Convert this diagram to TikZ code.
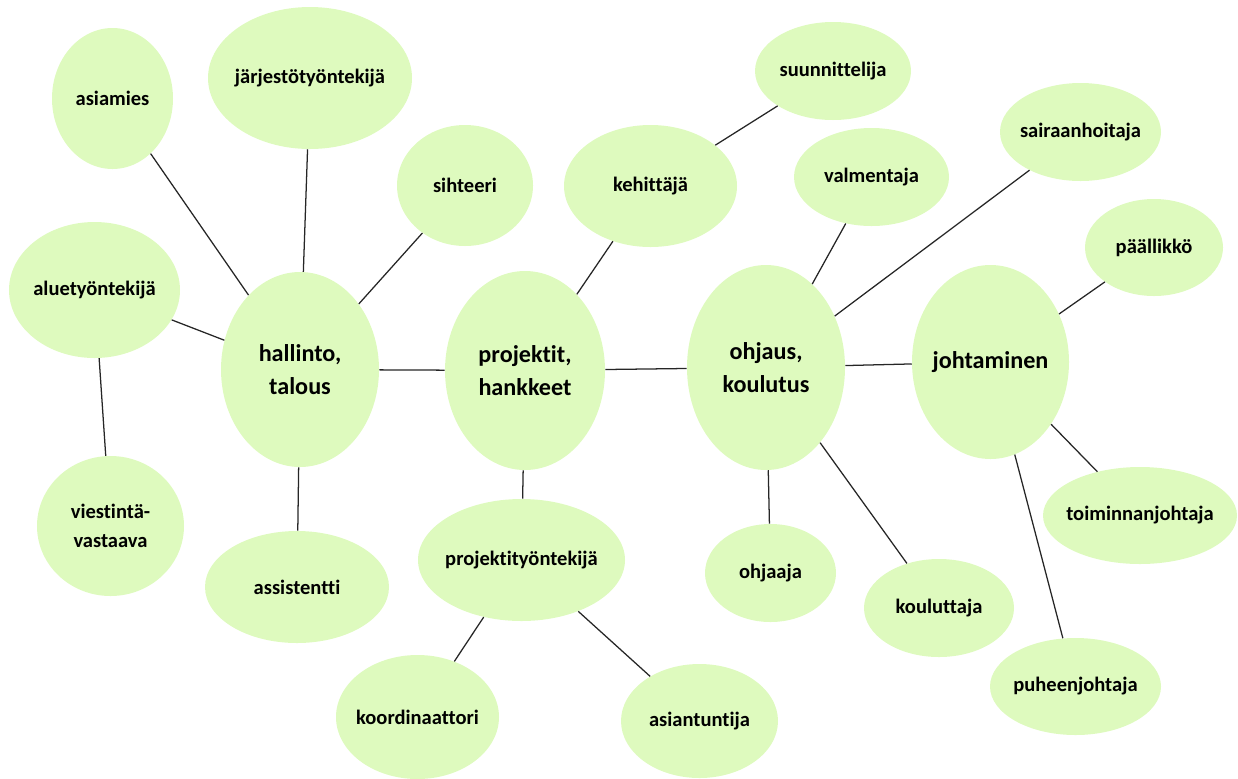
\documentclass[tikz,border=0pt]{standalone}
\usepackage{fontspec}
\setmainfont{Carlito}[Ligatures=CommonOff]
\usetikzlibrary{shapes.geometric}

\definecolor{leafgreen}{HTML}{DEFABE}
\definecolor{linkgray}{HTML}{262626}

\tikzset{
	bubble/.style 2 args={ellipse, fill=leafgreen, inner sep=0pt,
		minimum width=#1*0.5mm, minimum height=#2*0.5mm},
	jobtext/.style={font=\bfseries\fontsize{14.6}{20.6}\selectfont, align=center, inner sep=0pt},
	hubtext/.style={font=\bfseries\fontsize{17.2}{23.5}\selectfont, align=center, inner sep=0pt},
	link/.style={draw=linkgray, line width=0.9pt}
}

\begin{document}
\begin{tikzpicture}[x=0.25mm, y=-0.25mm]

		\useasboundingbox (0,0) rectangle (1238,778);

		%Main areas
		\node[bubble={79}{97.5}, label={[hubtext]center:{hallinto,\\talous}}] (hallinto) at (300,369.5) {};
		\node[bubble={80}{99.5}, label={[hubtext]center:{projektit,\\hankkeet}}] (projektit) at (525,370.5) {};
		\node[bubble={79}{102.5}, label={[hubtext]center:{ohjaus,\\koulutus}}] (ohjaus) at (766,367.5) {};
		\node[bubble={78.5}{97}, label={[hubtext]center:johtaminen}] (johtaminen) at (990.5,362) {};

		%Titles round hallinto
		\node[bubble={60.5}{70.5}, label={[jobtext]center:asiamies}] (asiamies) at (112.5,98.5) {};
		\node[bubble={102}{71}, label={[jobtext]center:järjestötyöntekijä}] (jarjesto) at (310,78) {};
		\node[bubble={68}{60.5}, label={[jobtext]center:sihteeri}] (sihteeri) at (465,185.5) {};
		\node[bubble={85.5}{68}, label={[jobtext]center:aluetyöntekijä}] (alue) at (94.5,290) {};
		\node[bubble={73.5}{70}, label={[jobtext]center:{viestintä-\\vastaava}}] (viestinta) at (110.5,526) {};
		\node[bubble={92}{56}, label={[jobtext]center:assistentti}] (assistentti) at (297,587) {};

		%Titles round projektit
		\node[bubble={86.5}{61}, label={[jobtext]center:kehittäjä}] (kehittaja) at (650.5,186) {};
		\node[bubble={78}{49}, label={[jobtext]center:suunnittelija}] (suunnittelija) at (833,71) {};
		\node[bubble={103.5}{61}, label={[jobtext]center:projektityöntekijä}] (projektityo) at (521.5,560) {};
		\node[bubble={81.5}{62}, label={[jobtext]center:koordinaattori}] (koordinaattori) at (417.5,717) {};
		\node[bubble={78.5}{57}, label={[jobtext]center:asiantuntija}] (asiantuntija) at (699.5,721) {};

		%Titles round ohjaus
		\node[bubble={77.5}{49}, label={[jobtext]center:valmentaja}] (valmentaja) at (871.5,177) {};
		\node[bubble={80.5}{49}, label={[jobtext]center:sairaanhoitaja}] (sairaanhoitaja) at (1080.5,132) {};
		\node[bubble={65.5}{49}, label={[jobtext]center:ohjaaja}] (ohjaaja) at (770.5,573) {};
		\node[bubble={75}{49}, label={[jobtext]center:kouluttaja}] (kouluttaja) at (939,608) {};

		%Titles round johtaminen
		\node[bubble={69}{48.5}, label={[jobtext]center:päällikkö}] (paallikko) at (1154,247.5) {};
		\node[bubble={97}{48.5}, label={[jobtext]center:toiminnanjohtaja}] (toiminnanjohtaja) at (1140,515.5) {};
		\node[bubble={85.5}{48.5}, label={[jobtext]center:puheenjohtaja}] (puheenjohtaja) at (1075.5,686.5) {};

		%Links between areas
		\draw[link] (hallinto) -- (projektit);
		\draw[link] (projektit) -- (ohjaus);
		\draw[link] (ohjaus) -- (johtaminen);

		%Links to titles
		\draw[link] (hallinto) -- (asiamies);
		\draw[link] (hallinto) -- (jarjesto);
		\draw[link] (hallinto) -- (sihteeri);
		\draw[link] (hallinto) -- (alue);
		\draw[link] (alue) -- (viestinta);
		\draw[link] (hallinto) -- (assistentti);
		\draw[link] (projektit) -- (kehittaja);
		\draw[link] (kehittaja) -- (suunnittelija);
		\draw[link] (projektit) -- (projektityo);
		\draw[link] (projektityo) -- (koordinaattori);
		\draw[link] (projektityo) -- (asiantuntija);
		\draw[link] (ohjaus) -- (valmentaja);
		\draw[link] (ohjaus) -- (sairaanhoitaja);
		\draw[link] (ohjaus) -- (ohjaaja);
		\draw[link] (ohjaus) -- (kouluttaja);
		\draw[link] (johtaminen) -- (paallikko);
		\draw[link] (johtaminen) -- (toiminnanjohtaja);
		\draw[link] (johtaminen) -- (puheenjohtaja);

\end{tikzpicture}
\end{document}
